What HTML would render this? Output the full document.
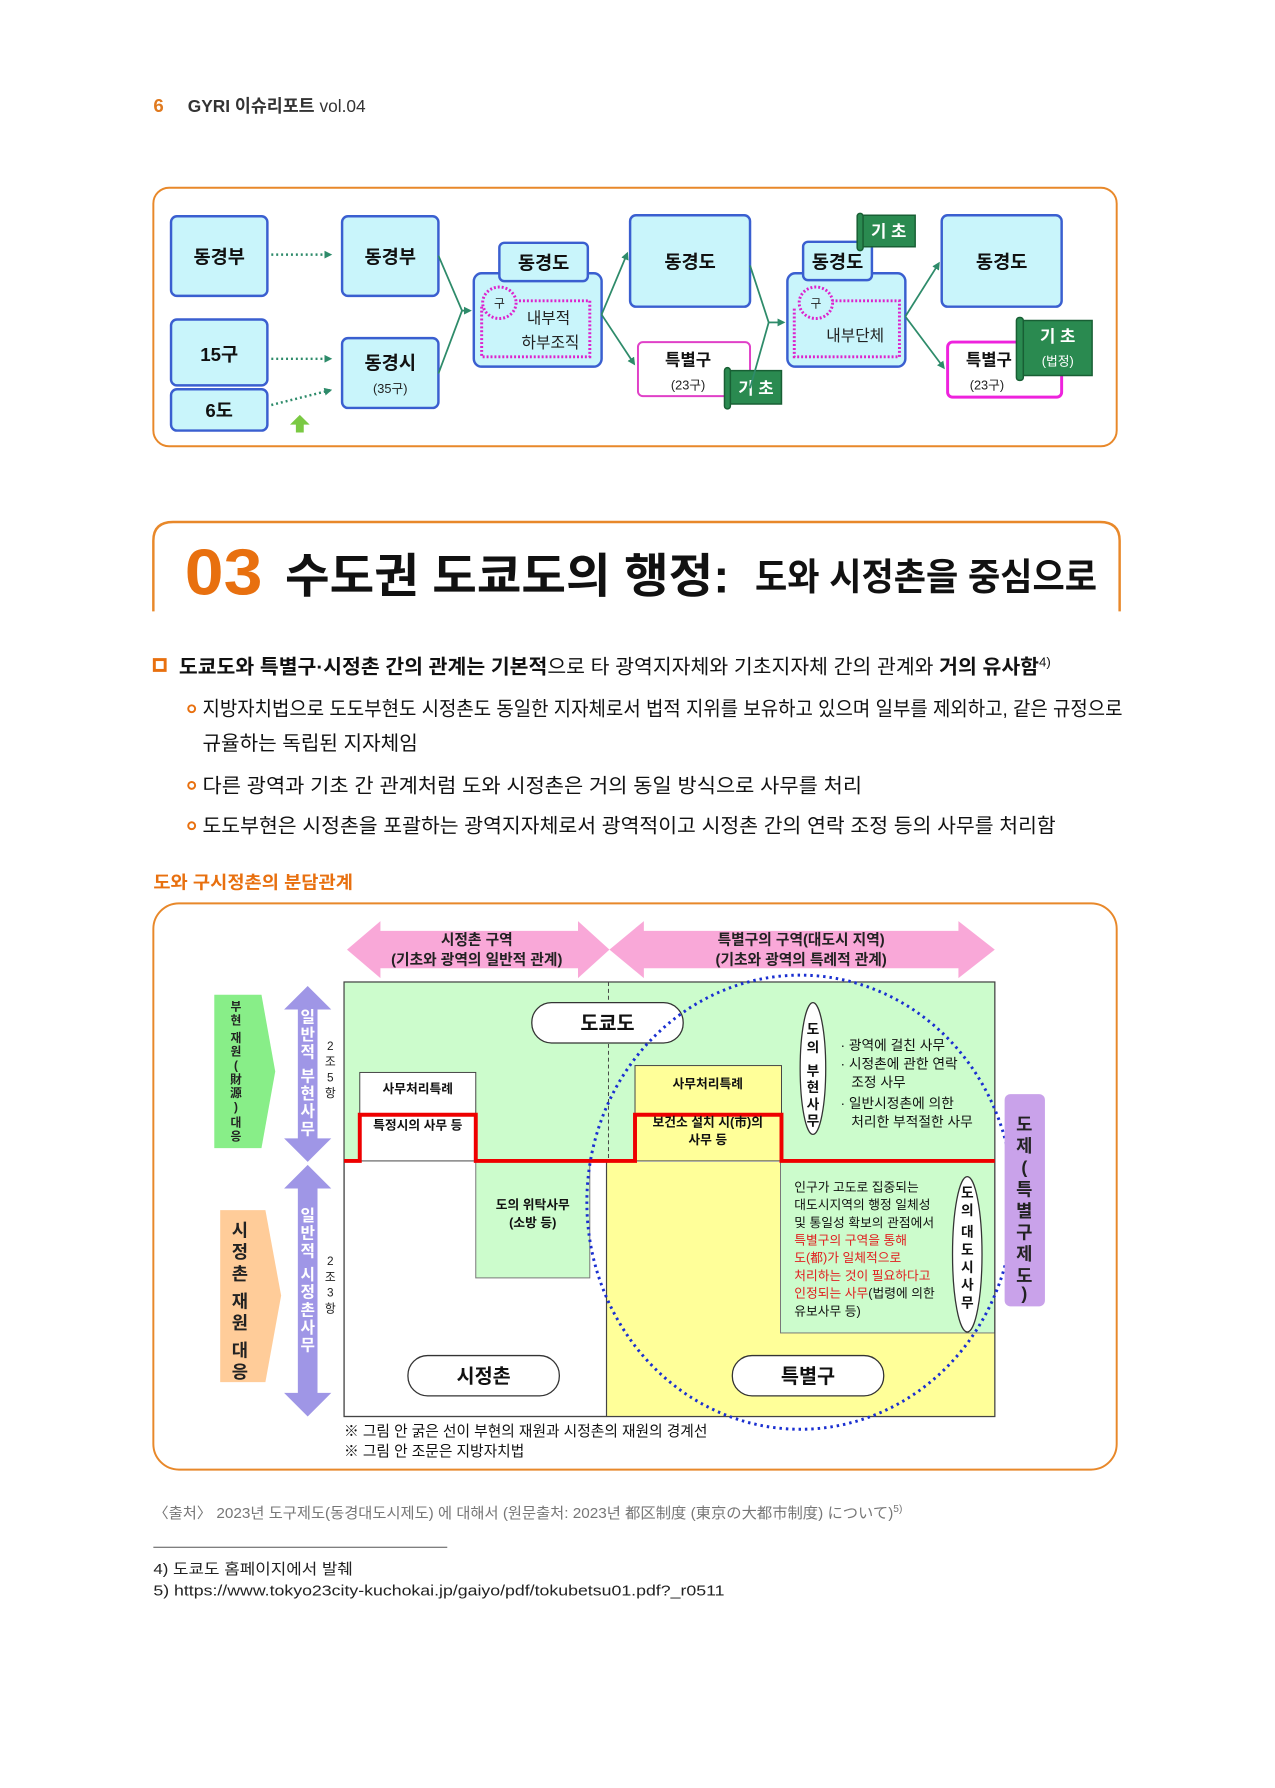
<!DOCTYPE html>
<html><head><meta charset="utf-8"><style>
html,body{margin:0;padding:0;background:#fff;}
svg{display:block;}
text{font-family:"Liberation Sans","Noto Sans CJK KR",sans-serif;}
</style></head><body>
<svg width="1275" height="1788" viewBox="0 0 1275 1788" xmlns="http://www.w3.org/2000/svg">
<defs>
<marker id="ga" markerWidth="8" markerHeight="8" refX="6" refY="4" orient="auto" markerUnits="userSpaceOnUse"><path d="M0,0 L8,4 L0,8 z" fill="#2e8b6a"/></marker>
</defs>
<g transform="scale(0.983)">
<!-- header -->
<text x="156" y="114" font-size="19" fill="#e07a1f" font-weight="bold">6</text>
<text x="191" y="114" font-size="18" fill="#333" font-weight="bold" textLength="181" lengthAdjust="spacingAndGlyphs">GYRI 이슈리포트 <tspan font-weight="normal">vol.04</tspan></text>

<!-- top diagram box -->
<rect x="156" y="191" width="980" height="263" rx="16" fill="#fff" stroke="#e8882a" stroke-width="2"/>
<g stroke="#3a5fd0" stroke-width="2.5" fill="#c9f5fb">
<rect x="174" y="220" width="98" height="81" rx="6"/>
<rect x="174" y="325" width="98" height="67" rx="6"/>
<rect x="174" y="396" width="98" height="42" rx="6"/>
<rect x="348" y="220" width="98" height="81" rx="6"/>
<rect x="348" y="344" width="98" height="71" rx="6"/>
<rect x="482" y="278" width="130" height="95" rx="8"/>
<rect x="508" y="247" width="90" height="39" rx="5"/>
<rect x="641" y="219" width="122" height="93" rx="6"/>
<rect x="801" y="278" width="120" height="95" rx="8"/>
<rect x="817" y="246" width="70" height="39" rx="5"/>
<rect x="958" y="219" width="122" height="93" rx="6"/>
</g>
<rect x="649" y="348" width="114" height="55" rx="5" fill="#fff" stroke="#e040c8" stroke-width="2"/>
<rect x="964" y="348" width="116" height="56" rx="5" fill="#fff" stroke="#ee22dd" stroke-width="3"/>
<g fill="none" stroke="#dd22cc" stroke-width="3" stroke-dasharray="2 2">
<path d="M528,306 H600 V363 H490 V312"/>
<ellipse cx="508" cy="308" rx="17" ry="16" fill="#c9f5fb"/>
<path d="M846,306 H915 V363 H808 V312"/>
<ellipse cx="830" cy="308" rx="17" ry="16" fill="#c9f5fb"/>
</g>
<g font-size="19" text-anchor="middle" fill="#111" font-weight="bold">
<text x="223" y="268">동경부</text>
<text x="223" y="367">15구</text>
<text x="223" y="424">6도</text>
<text x="397" y="268">동경부</text>
<text x="397" y="376">동경시</text>
<text x="553" y="274">동경도</text>
<text x="702" y="273">동경도</text>
<text x="852" y="273">동경도</text>
<text x="1019" y="273">동경도</text>
<text x="700" y="372" font-size="17">특별구</text>
<text x="1006" y="372" font-size="17">특별구</text>
</g>
<g font-size="13" text-anchor="middle" fill="#222">
<text x="397" y="400">(35구)</text>
<text x="700" y="396">(23구)</text>
<text x="1004" y="396">(23구)</text>
<text x="508" y="313" font-size="12">구</text>
<text x="830" y="313" font-size="12">구</text>
<text x="558" y="329" font-size="16">내부적</text>
<text x="560" y="354" font-size="16">하부조직</text>
<text x="870" y="347" font-size="16">내부단체</text>
</g>
<g fill="#2a8a50" stroke="#185f34" stroke-width="1.5">
<path d="M740,377 H795 V411 H740 Z"/><rect x="737" y="374" width="6" height="42" rx="3"/>
<path d="M875,219 H931 V251 H875 Z"/><rect x="872" y="217" width="6" height="38" rx="3"/>
<path d="M1038,326 H1111 V382 H1038 Z"/><rect x="1034" y="323" width="7" height="64" rx="3"/>
</g>
<g fill="#fff" font-size="17" font-weight="bold" text-anchor="middle">
<text x="769" y="401">기 초</text>
<text x="904" y="241">기 초</text>
<text x="1076" y="348">기 초</text>
<text x="1076" y="372" font-size="13" font-weight="normal">(법정)</text>
</g>
<g stroke="#2e8b6a" stroke-width="2.5" fill="none" stroke-dasharray="2 3">
<path d="M276,259 H336" marker-end="url(#ga)"/>
<path d="M276,365 H336" marker-end="url(#ga)"/>
<path d="M276,412 L336,397" marker-end="url(#ga)"/>
</g>
<g stroke="#2e8b6a" stroke-width="1.8" fill="none">
<path d="M446,260 L470,316"/><path d="M446,380 L470,316"/><path d="M470,316 H478" marker-end="url(#ga)"/>
<path d="M612,320 L638,258" marker-end="url(#ga)"/>
<path d="M612,320 L645,370" marker-end="url(#ga)"/>
<path d="M763,270 L782,328"/><path d="M763,395 L782,328"/><path d="M782,328 H797" marker-end="url(#ga)"/>
<path d="M921,322 L955,268" marker-end="url(#ga)"/>
<path d="M921,322 L960,374" marker-end="url(#ga)"/>
</g>
<path d="M305,422 l-10,10 h6 v8 h8 v-8 h6 z" fill="#7ac943"/>

<!-- section title -->
<path d="M156,622 V550 Q156,531 176,531 H1119 Q1139,531 1139,550 V622" fill="none" stroke="#e8882a" stroke-width="2.5"/>
<text x="188" y="605" font-size="66" font-weight="bold" fill="#e8700f" textLength="79" lengthAdjust="spacingAndGlyphs">03</text>
<text x="290" y="603" font-size="48" font-weight="bold" fill="#111" textLength="452" lengthAdjust="spacingAndGlyphs">수도권 도쿄도의 행정:</text>
<text x="768" y="600" font-size="38" font-weight="bold" fill="#111" textLength="348" lengthAdjust="spacingAndGlyphs">도와 시정촌을 중심으로</text>

<!-- bullets -->
<rect x="157" y="671" width="11" height="11" fill="none" stroke="#e8700f" stroke-width="3"/>
<text x="182" y="685" font-size="20" fill="#111" textLength="887" lengthAdjust="spacingAndGlyphs"><tspan font-weight="bold">도쿄도와 특별구·시정촌 간의 관계는 기본적</tspan>으로 타 광역지자체와 기초지자체 간의 관계와 <tspan font-weight="bold">거의 유사함</tspan><tspan font-size="13" dy="-7">4)</tspan></text>
<g fill="none" stroke="#e8700f" stroke-width="2"><circle cx="195" cy="721" r="3.5"/><circle cx="195" cy="799" r="3.5"/><circle cx="195" cy="840" r="3.5"/></g>
<g font-size="20" fill="#111">
<text x="206" y="728" textLength="936" lengthAdjust="spacingAndGlyphs">지방자치법으로 도도부현도 시정촌도 동일한 지자체로서 법적 지위를 보유하고 있으며 일부를 제외하고, 같은 규정으로</text>
<text x="206" y="763" textLength="219" lengthAdjust="spacingAndGlyphs">규율하는 독립된 지자체임</text>
<text x="206" y="806" textLength="671" lengthAdjust="spacingAndGlyphs">다른 광역과 기초 간 관계처럼 도와 시정촌은 거의 동일 방식으로 사무를 처리</text>
<text x="206" y="847" textLength="868" lengthAdjust="spacingAndGlyphs">도도부현은 시정촌을 포괄하는 광역지자체로서 광역적이고 시정촌 간의 연락 조정 등의 사무를 처리함</text>
</g>
<text x="156" y="904" font-size="18" fill="#e8700f" font-weight="bold" textLength="203" lengthAdjust="spacingAndGlyphs">도와 구시정촌의 분담관계</text>

<!-- lower diagram -->
<rect x="156" y="919" width="980" height="576" rx="26" fill="#fff" stroke="#e8882a" stroke-width="2"/>
<path d="M353,966 L387,937 V947 H588 V937 L620,966 L588,995 V985 H387 V995 Z" fill="#f9a8d8"/>
<path d="M620,966 L655,937 V947 H975 V937 L1012,966 L975,995 V985 H655 V995 Z" fill="#f9a8d8"/>
<g font-size="15" text-anchor="middle" fill="#222" font-weight="bold">
<text x="485" y="961">시정촌 구역</text>
<text x="485" y="981">(기초와 광역의 일반적 관계)</text>
<text x="815" y="961">특별구의 구역(대도시 지역)</text>
<text x="815" y="981">(기초와 광역의 특례적 관계)</text>
</g>
<rect x="350" y="999" width="662" height="442" fill="#fff" stroke="#444" stroke-width="1.2"/>
<rect x="350" y="999" width="662" height="182" fill="#ccfccc"/>
<rect x="617" y="1182" width="395" height="259" fill="#ffff99"/>
<rect x="794" y="1182" width="218" height="174" fill="#ccfccc" stroke="#777" stroke-width="1"/>
<rect x="484" y="1182" width="116" height="118" fill="#ccfccc" stroke="#777" stroke-width="1"/>
<rect x="366" y="1091" width="118" height="90" fill="#fff" stroke="#444" stroke-width="1"/>
<rect x="646" y="1084" width="149" height="97" fill="#ffff99" stroke="#444" stroke-width="1"/>
<rect x="350" y="999" width="662" height="442" fill="none" stroke="#444" stroke-width="1.2"/>
<line x1="617" y1="1181" x2="617" y2="1441" stroke="#444" stroke-width="1.2"/>
<line x1="619" y1="999" x2="619" y2="1181" stroke="#444" stroke-width="1" stroke-dasharray="4 3"/>
<path d="M350,1181 H366 V1134 H484 V1181 H646 V1134 H795 V1181 H1012" fill="none" stroke="#ee0000" stroke-width="4"/>
<g font-size="13" text-anchor="middle" fill="#111" font-weight="bold">
<text x="425" y="1112">사무처리특례</text>
<text x="425" y="1149">특정시의 사무 등</text>
<text x="720" y="1107">사무처리특례</text>
<text x="720" y="1146">보건소 설치 시(市)의</text>
<text x="720" y="1164">사무 등</text>
<text x="542" y="1230">도의 위탁사무</text>
<text x="542" y="1248">(소방 등)</text>
</g>
<g fill="#fff" stroke="#333" stroke-width="1.3">
<rect x="541" y="1020" width="154" height="41" rx="20"/>
<rect x="415" y="1379" width="154" height="41" rx="20"/>
<rect x="745" y="1379" width="154" height="41" rx="20"/>
<ellipse cx="827" cy="1087" rx="13" ry="67"/>
<ellipse cx="984" cy="1276" rx="15" ry="79"/>
</g>
<g font-size="20" text-anchor="middle" fill="#111" font-weight="bold">
<text x="618" y="1048">도쿄도</text>
<text x="492" y="1407">시정촌</text>
<text x="822" y="1407">특별구</text>
</g>
<g font-size="14" text-anchor="middle" fill="#111" font-weight="bold">
<text x="827" y="1052">도</text><text x="827" y="1070">의</text><text x="827" y="1094">부</text><text x="827" y="1111">현</text><text x="827" y="1128">사</text><text x="827" y="1145">무</text>
<text x="984" y="1218">도</text><text x="984" y="1236">의</text><text x="984" y="1258">대</text><text x="984" y="1276">도</text><text x="984" y="1294">시</text><text x="984" y="1312">사</text><text x="984" y="1330">무</text>
</g>
<g font-size="14" fill="#111">
<text x="855" y="1068">· 광역에 걸친 사무</text>
<text x="855" y="1087">· 시정촌에 관한 연락</text>
<text x="866" y="1106">조정 사무</text>
<text x="855" y="1127">· 일반시정촌에 의한</text>
<text x="866" y="1146">처리한 부적절한 사무</text>
</g>
<g font-size="13" fill="#111">
<text x="808" y="1212">인구가 고도로 집중되는</text>
<text x="808" y="1230">대도시지역의 행정 일체성</text>
<text x="808" y="1248">및 통일성 확보의 관점에서</text>
<text x="808" y="1266" fill="#e02020">특별구의 구역을 통해</text>
<text x="808" y="1284" fill="#e02020">도(都)가 일체적으로</text>
<text x="808" y="1302" fill="#e02020">처리하는 것이 필요하다고</text>
<text x="808" y="1320"><tspan fill="#e02020">인정되는 사무</tspan>(법령에 의한</text>
<text x="808" y="1338">유보사무 등)</text>
</g>
<ellipse cx="814" cy="1223" rx="217" ry="231" fill="none" stroke="#1a2fd0" stroke-width="3" stroke-dasharray="2.5 4"/>
<rect x="1022" y="1113" width="41" height="216" rx="6" fill="#c9a2ea"/>
<g font-size="18" text-anchor="middle" fill="#222" font-weight="bold">
<text x="1042" y="1150">도</text><text x="1042" y="1172">제</text><text x="1042" y="1194">(</text><text x="1042" y="1216">특</text><text x="1042" y="1238">별</text><text x="1042" y="1260">구</text><text x="1042" y="1282">제</text><text x="1042" y="1304">도</text><text x="1042" y="1322">)</text>
</g>
<path d="M218,1012 H266 L280,1090 L266,1168 H218 Z" fill="#88ee88"/>
<path d="M224,1231 H270 L286,1318 L270,1406 H224 Z" fill="#ffcc99"/>
<path d="M313,1003 L337,1027 H323 V1158 H337 L313,1182 L289,1158 H303 V1027 H289 Z" fill="#9f96e6"/>
<path d="M313,1185 L337,1209 H323 V1417 H337 L313,1441 L289,1417 H303 V1209 H289 Z" fill="#9f96e6"/>
<g font-size="12" text-anchor="middle" fill="#222" font-weight="bold">
<text x="240" y="1028">부</text><text x="240" y="1042">현</text><text x="240" y="1060">재</text><text x="240" y="1074">원</text><text x="240" y="1088">(</text><text x="240" y="1102">財</text><text x="240" y="1116">源</text><text x="240" y="1130">)</text><text x="240" y="1146">대</text><text x="240" y="1160">응</text>
</g>
<g font-size="18" text-anchor="middle" fill="#222" font-weight="bold">
<text x="244" y="1258">시</text><text x="244" y="1280">정</text><text x="244" y="1302">촌</text><text x="244" y="1330">재</text><text x="244" y="1352">원</text><text x="244" y="1380">대</text><text x="244" y="1402">응</text>
</g>
<g font-size="16" text-anchor="middle" fill="#fff" font-weight="bold">
<text x="313" y="1040">일</text><text x="313" y="1058">반</text><text x="313" y="1076">적</text><text x="313" y="1100">부</text><text x="313" y="1118">현</text><text x="313" y="1136">사</text><text x="313" y="1154">무</text>
<text x="313" y="1242">일</text><text x="313" y="1260">반</text><text x="313" y="1278">적</text><text x="313" y="1302">시</text><text x="313" y="1320">정</text><text x="313" y="1338">촌</text><text x="313" y="1356">사</text><text x="313" y="1374">무</text>
</g>
<g font-size="12" text-anchor="middle" fill="#222">
<text x="336" y="1068">2</text><text x="336" y="1084">조</text><text x="336" y="1100">5</text><text x="336" y="1116">항</text>
<text x="336" y="1287">2</text><text x="336" y="1303">조</text><text x="336" y="1319">3</text><text x="336" y="1335">항</text>
</g>
<g font-size="15" fill="#111">
<text x="350" y="1461">※ 그림 안 굵은 선이 부현의 재원과 시정촌의 재원의 경계선</text>
<text x="350" y="1481">※ 그림 안 조문은 지방자치법</text>
</g>

<text x="156" y="1544" font-size="15" fill="#777" textLength="762" lengthAdjust="spacingAndGlyphs">〈출처〉 2023년 도구제도(동경대도시제도) 에 대해서 (원문출처: 2023년 都区制度 (東京の大都市制度) について)<tspan font-size="10" dy="-6">5)</tspan></text>
<line x1="156" y1="1574" x2="455" y2="1574" stroke="#555" stroke-width="1"/>
<text x="156" y="1601" font-size="15" fill="#222" textLength="203" lengthAdjust="spacingAndGlyphs">4) 도쿄도 홈페이지에서 발췌</text>
<text x="156" y="1623" font-size="15" fill="#222" textLength="581" lengthAdjust="spacingAndGlyphs">5) https://www.tokyo23city-kuchokai.jp/gaiyo/pdf/tokubetsu01.pdf?_r0511</text>
</g>
</svg>
</body></html>
